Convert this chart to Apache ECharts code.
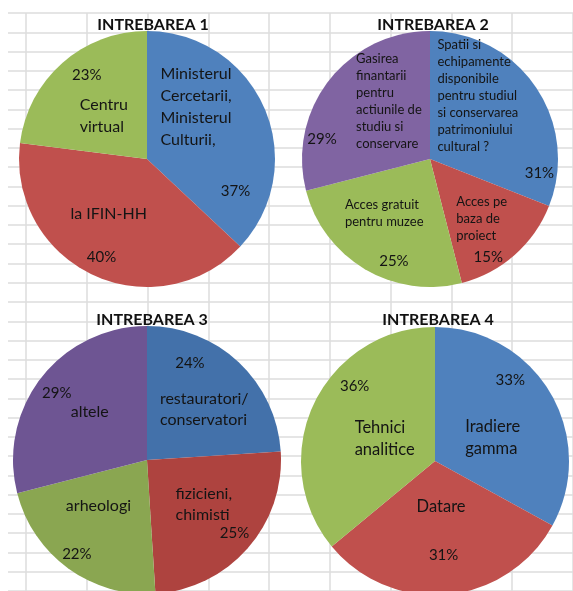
<!DOCTYPE html>
<html>
<head>
<meta charset="utf-8">
<script src="https://cdn.jsdelivr.net/npm/echarts@6/dist/echarts.min.js"></script>
<style>
  html, body { margin: 0; padding: 0; background: #fff; }
  #main { width: 573px; height: 591px; }
</style>
</head>
<body>
<div id="main"></div>
<script>
// date
const titles = ['INTREBAREA 1', 'INTREBAREA 2', 'INTREBAREA 3', 'INTREBAREA 4'];

const q1Names = ['Ministerul\nCercetarii,\nMinisterul\nCulturii,', 'la IFIN-HH', 'Centru\nvirtual'];
const q1Values = [37, 40, 23];

const q2Names = [
  'Spatii si\nechipamente\ndisponibile\npentru studiul\nsi conservarea\npatrimoniului\ncultural ?',
  'Acces pe\nbaza de\nproiect',
  'Acces gratuit\npentru muzee',
  'Gasirea\nfinantarii\npentru\nactiunile de\nstudiu si\nconservare',
];
const q2Values = [31, 15, 25, 29];

const q3Names = ['restauratori/\nconservatori', 'fizicieni,\nchimisti', 'arheologi', 'altele'];
const q3Values = [24, 25, 22, 29];

const q4Names = ['Iradiere\ngamma', 'Datare', 'Tehnici\nanalitice'];
const q4Values = [33, 31, 36];

// culori
const officeColors = ['#4F81BD', '#C0504D', '#9BBB59', '#8064A2'];
const darkColors = ['#4371AA', '#AE433F', '#8AA651', '#6E5593'];

const FONT = 'Lato, "Open Sans", sans-serif';

// pozitii etichete (deplasare fata de pozitia 'inside')
const q1NameShift = [[-48, -26], [-48, -6], [-23, 7]];
const q1PctShift = [[27, 59], [-17, 38], [-16, -34]];
const q2NameShift = [[-48, -26], [-18, 10], [-51, -3], [-21, -17]];
const q2PctShift = [[54, 52], [14, 48], [-2, 44], [-55, 21]];
const q3NameShift = [[-35, 0], [-24, -2], [-40, -11], [-21, -5]];
const q3PctShift = [[-5, -46], [35, 27], [-29, 38], [-35, -24]];
const q4NameShift = [[-30, 12], [-25, -24], [-17, 7]];
const q4PctShift = [[15, -45], [2, 24], [-17, -45]];

const pies = [
  { names: q1Names, values: q1Values, colors: officeColors, center: [147, 159], r: 128, font: 16, lh: 22, nameShift: q1NameShift, pctShift: q1PctShift, titleX: 148, titleY: 12 },
  { names: q2Names, values: q2Values, colors: officeColors, center: [430, 159], r: 128, font: 13, lh: 17, nameShift: q2NameShift, pctShift: q2PctShift, titleX: 428, titleY: 12 },
  { names: q3Names, values: q3Values, colors: darkColors, center: [147, 460], r: 134, font: 16, lh: 21, nameShift: q3NameShift, pctShift: q3PctShift, titleX: 147, titleY: 307 },
  { names: q4Names, values: q4Values, colors: officeColors, center: [435, 461], r: 134, font: 16.5, lh: 22, nameShift: q4NameShift, pctShift: q4PctShift, titleX: 433, titleY: 307 },
];

const buildSeries = (pie, idx) => {
  const data = pie.names.map((name, i) => ({ name, value: pie.values[i] }));
  const base = {
    type: 'pie',
    center: pie.center,
    radius: [0, pie.r],
    startAngle: 90,
    clockwise: true,
    avoidLabelOverlap: false,
    labelLine: { show: false },
    emphasis: { disabled: true },
    silent: true,
    animation: false,
    data,
  };
  const textBase = { show: true, position: 'inside', color: '#141414', fontFamily: FONT, textBorderWidth: 0 };
  return [
    {
      ...base,
      name: titles[idx],
      itemStyle: { color: p => pie.colors[p.dataIndex], borderWidth: 0 },
      label: { ...textBase, formatter: '{b}', fontSize: pie.font, lineHeight: pie.lh },
      labelLayout: p => ({
        dx: pie.nameShift[p.dataIndex][0],
        dy: pie.nameShift[p.dataIndex][1],
        align: 'left',
        verticalAlign: 'middle',
      }),
    },
    {
      ...base,
      name: titles[idx] + ' %',
      itemStyle: { color: 'rgba(0,0,0,0)', borderWidth: 0 },
      label: { ...textBase, formatter: '{c}%', fontSize: 15 },
      labelLayout: p => ({
        dx: pie.pctShift[p.dataIndex][0],
        dy: pie.pctShift[p.dataIndex][1],
      }),
    },
  ];
};

const gridLine = { show: true, lineStyle: { color: '#dcdcdc', width: 1.5 } };
const hidden = { axisLine: { show: false }, axisTick: { show: false }, axisLabel: { show: false } };

const chart = echarts.init(document.getElementById('main'));
chart.setOption({
  backgroundColor: '#fff',
  animation: false,
  title: pies.map((p, i) => ({
    text: titles[i],
    left: p.titleX,
    top: p.titleY,
    textAlign: 'center',
    textStyle: { fontFamily: FONT, fontSize: 16, fontWeight: 'bold', color: '#111' },
  })),
  // fundal tip foaie de calcul
  grid: [
    { left: 8, top: 13, width: 565, height: 585 },
    { left: 26, top: 13, width: 555.75, height: 585 },
  ],
  xAxis: [
    { gridIndex: 0, type: 'value', show: false, min: 0, max: 1 },
    { gridIndex: 1, type: 'value', min: 0, max: 555.75, interval: 61.75, splitLine: gridLine, ...hidden },
  ],
  yAxis: [
    { gridIndex: 0, type: 'value', inverse: true, min: 0, max: 585, interval: 19.5, splitLine: gridLine, ...hidden },
    { gridIndex: 1, type: 'value', show: false, min: 0, max: 1 },
  ],
  series: pies.flatMap(buildSeries),
});
</script>
</body>
</html>
